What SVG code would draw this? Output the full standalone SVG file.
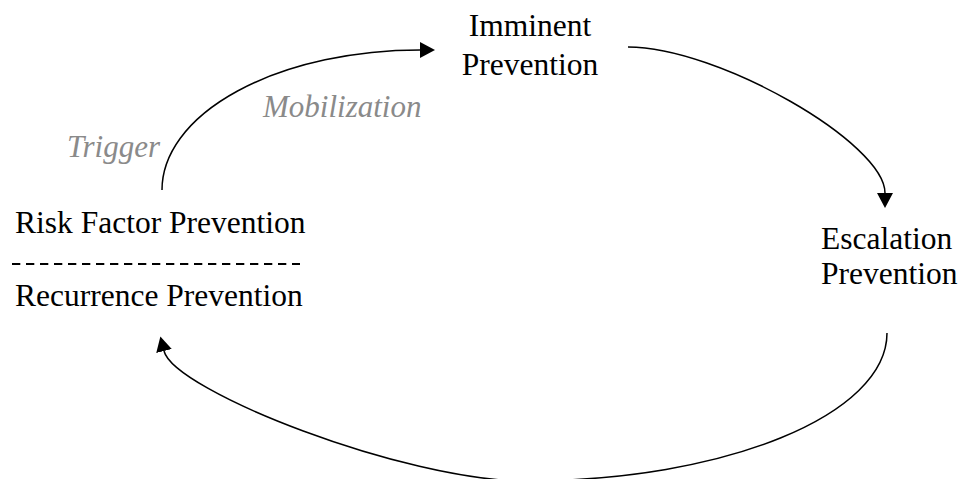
<svg xmlns="http://www.w3.org/2000/svg" width="964" height="479" viewBox="0 0 964 479">
  <style>
    .node { font-family: "Liberation Serif", "Times New Roman", serif; font-size: 31.5px; fill: #000; }
    .label { font-family: "Liberation Serif", "Times New Roman", serif; font-size: 31px; font-style: italic; fill: #8a8a8a; }
    .conn { fill: none; stroke: #000; stroke-width: 1.5; marker-end: url(#arrow); }
    .divider { stroke: #000; stroke-width: 2; stroke-dasharray: 8.3 5.7; }
  </style>
  <defs>
    <marker id="arrow" markerUnits="userSpaceOnUse" markerWidth="15" markerHeight="16" refX="0" refY="8" orient="auto" viewBox="0 0 15 16">
      <path d="M0,0 L15,8 L0,16 z" fill="#000"/>
    </marker>
  </defs>
  <rect width="964" height="479" fill="#fff"/>

  <g id="connectors">
    <path class="conn" d="M162,190 A258,140 0 0 1 420,50"/>
    <path class="conn" d="M628,47 C718,47 885,143 885,193"/>
    <path class="conn" d="M887,333 C887,415 725,481 525,481 C405,481 174,391 164,351"/>
    <text class="label" x="67" y="157">Trigger</text>
    <text class="label" x="263" y="117">Mobilization</text>
  </g>

  <g id="imminent-prevention">
    <text class="node" x="530" y="36" text-anchor="middle">Imminent</text>
    <text class="node" x="530" y="75" text-anchor="middle">Prevention</text>
  </g>

  <g id="escalation-prevention">
    <text class="node" x="821" y="249">Escalation</text>
    <text class="node" x="821" y="284">Prevention</text>
  </g>

  <g id="risk-recurrence-prevention">
    <text class="node" x="15" y="233">Risk Factor Prevention</text>
    <line class="divider" x1="12" y1="264" x2="300" y2="264"/>
    <text class="node" x="15" y="306">Recurrence Prevention</text>
  </g>
</svg>
